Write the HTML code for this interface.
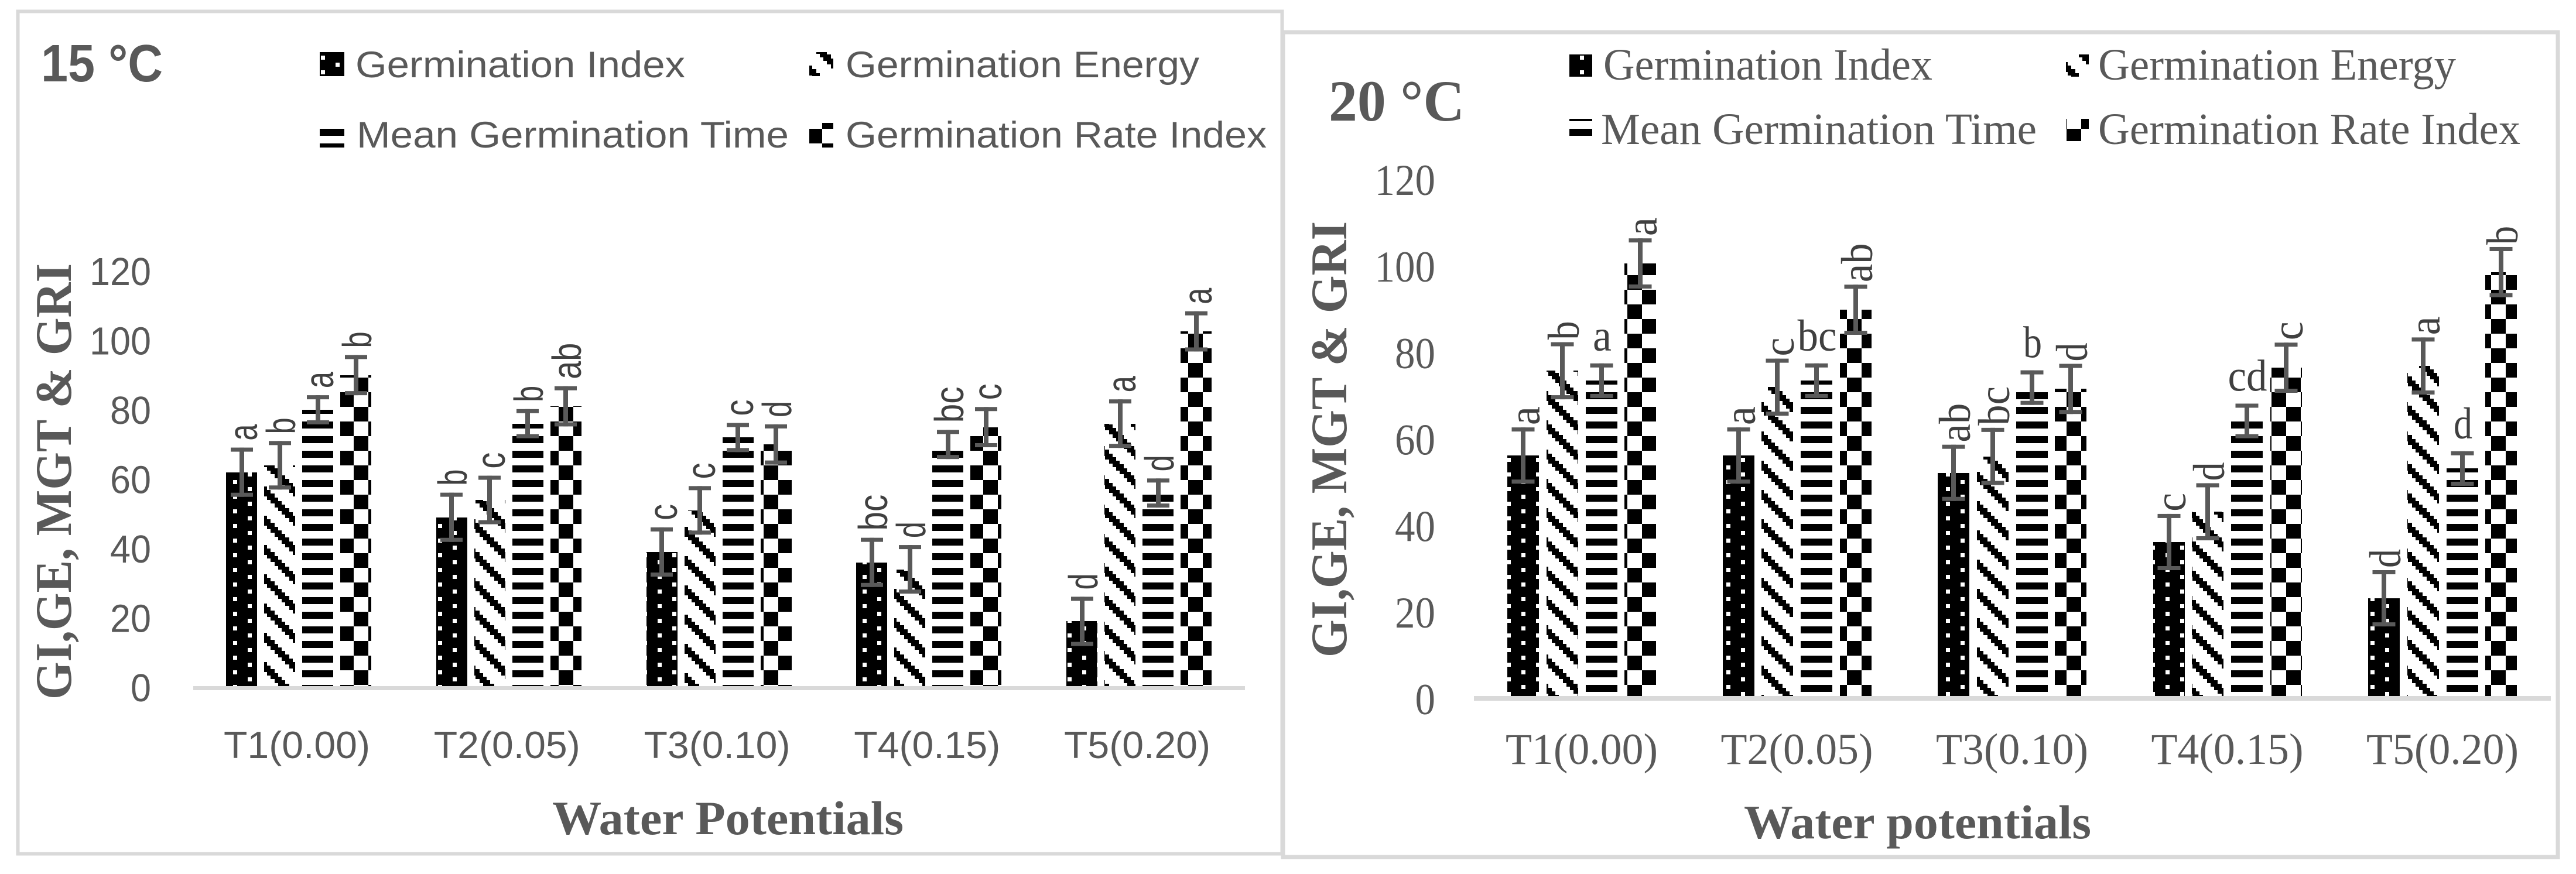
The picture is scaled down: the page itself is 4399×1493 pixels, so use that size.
<!DOCTYPE html>
<html lang="en">
<head>
<meta charset="utf-8">
<title>Germination indices at 15 °C and 20 °C</title>
<style>
html,body{margin:0;padding:0;background:#fff;width:4399px;height:1493px;overflow:hidden}
svg{display:block}
.sans{font-family:"Liberation Sans",sans-serif}
.serif{font-family:"Liberation Serif",serif}
</style>
</head>
<body>
<svg id="figure" xmlns="http://www.w3.org/2000/svg" width="4399" height="1493" viewBox="0 0 4399 1493">
<defs>
  <pattern id="pat-gi" patternUnits="userSpaceOnUse" x="0" y="0" width="50" height="25" shape-rendering="crispEdges">
    <rect width="50" height="25" fill="#000"/>
    <rect x="48" y="20" width="2" height="5" fill="#fff"/>
    <rect x="0" y="20" width="5" height="5" fill="#fff"/>
    <rect x="48" y="0" width="2" height="2" fill="#fff"/>
    <rect x="0" y="0" width="5" height="2" fill="#fff"/>
    <rect x="23" y="7" width="7" height="7" fill="#fff"/>
  </pattern>
  <pattern id="pat-ge" patternUnits="userSpaceOnUse" x="0" y="0" width="50" height="50" shape-rendering="crispEdges">
    <rect width="50" height="50" fill="#fff"/>
    <rect x="0" y="31" width="6" height="17" fill="#000"/>
    <rect x="6" y="37" width="6" height="13" fill="#000"/>
    <rect x="6" y="0" width="6" height="4" fill="#000"/>
    <rect x="12" y="43" width="7" height="7" fill="#000"/>
    <rect x="12" y="0" width="7" height="10" fill="#000"/>
    <rect x="19" y="0" width="6" height="17" fill="#000"/>
    <rect x="25" y="6" width="6" height="17" fill="#000"/>
    <rect x="31" y="12" width="6" height="17" fill="#000"/>
    <rect x="37" y="18" width="7" height="17" fill="#000"/>
    <rect x="44" y="25" width="6" height="17" fill="#000"/>
  </pattern>
  <pattern id="pat-mgt" patternUnits="userSpaceOnUse" x="0" y="0" width="50" height="25" shape-rendering="crispEdges">
    <rect width="50" height="25" fill="#fff"/>
    <rect x="0" y="20" width="50" height="5" fill="#000"/>
    <rect x="0" y="0" width="50" height="7" fill="#000"/>
  </pattern>
  <pattern id="pat-gri" patternUnits="userSpaceOnUse" x="0" y="0" width="50" height="50" shape-rendering="crispEdges">
    <rect width="50" height="50" fill="#fff"/>
    <rect x="29" y="20" width="21" height="25" fill="#000"/>
    <rect x="0" y="20" width="4" height="25" fill="#000"/>
    <rect x="4" y="45" width="25" height="5" fill="#000"/>
    <rect x="4" y="0" width="25" height="20" fill="#000"/>
  </pattern>
</defs>

<g>
  <rect x="30.5" y="19.5" width="2159" height="1439" fill="#fff" stroke="#d9d9d9" stroke-width="6"/>
</g>
<g>
  <rect x="2191" y="55" width="2177" height="1409" fill="#fff" stroke="#d9d9d9" stroke-width="7"/>
</g>

<g id="chart-left"></g>
<g id="chart-right"></g>

<!-- 15 C static text -->
<text class="sans" x="70" y="139" font-size="90" font-weight="700" fill="#595959" textLength="208" lengthAdjust="spacingAndGlyphs">15 °C</text>
<g class="sans" font-size="63" fill="#595959">
  <rect x="546" y="89" width="42" height="41" fill="url(#pat-gi)"/>
  <text x="607" y="132" textLength="563" lengthAdjust="spacingAndGlyphs">Germination Index</text>
  <rect x="1382" y="89" width="41" height="41" fill="url(#pat-ge)"/>
  <text x="1444" y="132" textLength="604" lengthAdjust="spacingAndGlyphs">Germination Energy</text>
  <rect x="546" y="211" width="42" height="41" fill="url(#pat-mgt)"/>
  <text x="609" y="252" textLength="738" lengthAdjust="spacingAndGlyphs">Mean Germination Time</text>
  <rect x="1382" y="210" width="41" height="42" fill="url(#pat-gri)"/>
  <text x="1444" y="252" textLength="719" lengthAdjust="spacingAndGlyphs">Germination Rate Index</text>
</g>
<text class="serif" transform="translate(121,1195) rotate(-90)" font-size="88" font-weight="700" fill="#595959" textLength="745" lengthAdjust="spacingAndGlyphs">GI,GE, MGT &amp; GRI</text>
<text class="serif" x="943" y="1425" font-size="82" font-weight="700" fill="#595959" textLength="600" lengthAdjust="spacingAndGlyphs">Water Potentials</text>

<!-- 20 C static text -->
<text class="serif" x="2269" y="206" font-size="100" font-weight="700" fill="#595959" textLength="232" lengthAdjust="spacingAndGlyphs">20 °C</text>
<g class="serif" font-size="76" fill="#595959">
  <rect x="2680" y="93" width="39" height="38" fill="url(#pat-gi)"/>
  <text x="2738" y="136" textLength="562" lengthAdjust="spacingAndGlyphs">Germination Index</text>
  <rect x="3528" y="93" width="39" height="38" fill="url(#pat-ge)"/>
  <text x="3583" y="136" textLength="611" lengthAdjust="spacingAndGlyphs">Germination Energy</text>
  <rect x="2680" y="203" width="39" height="29" fill="url(#pat-mgt)"/>
  <text x="2734" y="246" textLength="744" lengthAdjust="spacingAndGlyphs">Mean Germination Time</text>
  <rect x="3528" y="203" width="39" height="38" fill="url(#pat-gri)"/>
  <text x="3583" y="246" textLength="721" lengthAdjust="spacingAndGlyphs">Germination Rate Index</text>
</g>
<text class="serif" transform="translate(2299,1123) rotate(-90)" font-size="88" font-weight="700" fill="#595959" textLength="745" lengthAdjust="spacingAndGlyphs">GI,GE, MGT &amp; GRI</text>
<text class="serif" x="2978" y="1432" font-size="82" font-weight="700" fill="#595959" textLength="593" lengthAdjust="spacingAndGlyphs">Water potentials</text>
</svg>

<script>
// ---- shared data ----
const categoriesLeft = ['T1(0.00)', 'T2(0.05)', 'T3(0.10)', 'T4(0.15)', 'T5(0.20)'];
const categoriesRight = ['T1(0.00)', 'T2(0.05)', 'T3(0.10)', 'T4(0.15)', 'T5(0.20)'];
const yTicksLeft = [0, 20, 40, 60, 80, 100, 120];
const yTicksRight = [0, 20, 40, 60, 80, 100, 120];
const seriesNames = ['germination-index', 'germination-energy', 'mean-germination-time', 'germination-rate-index'];

// ---- 15 C values ----
const giLeft = [62, 49, 39, 36, 19];
const geLeft = [64, 54, 51, 34, 76];
const mgtLeft = [80, 76, 72, 70, 56];
const griLeft = [90, 81, 70, 75, 102.6];
const giErrLeft = [7.1, 7.1, 7.1, 7.1, 7.1];
const geErrLeft = [7, 7, 7, 7, 7];
const mgtErrLeft = [4.2, 4.2, 4.2, 4.2, 4.2];
const griErrLeft = [5.8, 5.8, 5.8, 5.8, 5.8];
const giLettersLeft = ['a', 'b', 'c', 'bc', 'd'];
const geLettersLeft = ['b', 'c', 'c', 'd', 'a'];
const mgtLettersLeft = ['a', 'b', 'c', 'bc', 'd'];
const griLettersLeft = ['b', 'ab', 'd', 'c', 'a'];

// ---- 20 C values ----
const giRight = [56, 56, 52, 36, 23];
const geRight = [75.6, 71.8, 55.8, 43, 76.7];
const mgtRight = [73.3, 73.3, 71.7, 64, 53];
const griRight = [100.4, 89.7, 71.4, 76.3, 98.4];
const giErrRight = [6.5, 6.5, 6.5, 6.5, 6.5];
const geErrRight = [6.6, 6.6, 6.6, 6.6, 6.6];
const mgtErrRight = [4, 4, 4, 4, 4];
const griErrRight = [5.8, 5.8, 5.8, 5.8, 5.8];
const giLettersRight = ['a', 'a', 'ab', 'c', 'd'];
const geLettersRight = ['b', 'c', 'bc', 'd', 'a'];
const mgtLettersRight = ['a', 'bc', 'b', 'cd', 'd'];
const griLettersRight = ['a', 'ab', 'd', 'c', 'b'];

const SVGNS = 'http://www.w3.org/2000/svg';
const patternIds = ['pat-gi', 'pat-ge', 'pat-mgt', 'pat-gri'];

function make(tag, parent, props) {
  const el = document.createElementNS(SVGNS, tag);
  for (const k in props) el.setAttribute(k, props[k]);
  parent.appendChild(el);
  return el;
}

function drawChart(root, o) {
  const yScale = v => o.y0 - v * o.pxPerUnit;
  const xBar = (c, s) => o.x0 + c * o.groupStep + s * o.barStep;

  // y tick labels
  o.ticks.forEach(t => {
    const el = make('text', root, {
      x: o.tickRight, y: yScale(t) + o.tickDy, 'font-size': o.tickFont, fill: '#595959',
      'text-anchor': 'end', 'font-family': o.family,
      textLength: String(t).length * o.digitW, lengthAdjust: 'spacingAndGlyphs'
    });
    
    
    el.textContent = t;
  });

  // bars
  o.series.forEach((vals, s) => {
    vals.forEach((v, c) => {
      const x = Math.round(xBar(c, s));
      const top = Math.round(yScale(v));
      const bar = make('rect', root, {
        x: x, y: top, width: o.barW, height: Math.round(yScale(0)) - top,
        fill: 'url(#' + patternIds[s] + ')'
      });
      
      
    });
  });

  // x axis line
  const axis = make('rect', root, {
    x: o.axisLeft, y: o.axisTop, width: o.axisRight - o.axisLeft, height: o.axisH, fill: '#d9d9d9'
  });
  
  

  // x category labels
  o.categories.forEach((cat, c) => {
    const el = make('text', root, {
      x: xBar(c, 0) + o.catDx, y: o.catY, 'font-size': o.catFont, fill: '#595959',
      'text-anchor': 'middle', 'font-family': o.family,
      textLength: o.catW, lengthAdjust: 'spacingAndGlyphs'
    });
    
    
    el.textContent = cat;
  });

  // error bars + significance letters
  o.series.forEach((vals, s) => {
    vals.forEach((v, c) => {
      const cx = Math.round(xBar(c, s) + o.barW / 2);
      const yTop = yScale(v + o.errors[s][c]);
      const yBot = yScale(v - o.errors[s][c]);
      const g = make('g', root, { fill: '#595959' });
      
      
      make('rect', g, { x: cx - 4, y: yTop, width: 8, height: yBot - yTop });
      make('rect', g, { x: cx - o.capW / 2, y: yTop, width: o.capW, height: 7 });
      make('rect', g, { x: cx - o.capW / 2, y: yBot - 7, width: o.capW, height: 7 });

      const letter = o.letters[s][c];
      const upright = o.uprightSeries === s;
      const len = letter.length === 1 ? o.letterLen1 : o.letterLen2;
      const props = {
        'font-size': o.letterFont, fill: '#404040', 'font-family': o.family,
        textLength: len, lengthAdjust: 'spacingAndGlyphs'
      };
      if (upright) {
        props.x = cx + 1;
        props.y = yTop - o.uprightGap;
        props['text-anchor'] = 'middle';
      } else {
        props.transform = 'translate(' + (cx + o.letterDx) + ',' + (yTop - o.letterGap) + ') rotate(-90)';
      }
      const t = make('text', root, props);
      
      
      t.textContent = letter;
    });
  });
}

drawChart(document.getElementById('chart-left'), {
  categories: categoriesLeft, ticks: yTicksLeft,
  series: [giLeft, geLeft, mgtLeft, griLeft],
  errors: [giErrLeft, geErrLeft, mgtErrLeft, griErrLeft],
  letters: [giLettersLeft, geLettersLeft, mgtLettersLeft, griLettersLeft],
  family: '"Liberation Sans", sans-serif',
  y0: 1174, pxPerUnit: 5.925, x0: 386, groupStep: 358.75, barStep: 65, barW: 53,
  tickRight: 258, tickDy: 24, tickFont: 67, digitW: 35,
  axisLeft: 330, axisRight: 2126, axisTop: 1172, axisH: 7,
  catY: 1295, catFont: 65, catW: 250, catDx: 121,
  capW: 38, letterFont: 70, letterDx: 26, letterGap: 12, letterLen1: 28, letterLen2: 62,
  uprightSeries: -1, uprightGap: 0
});

drawChart(document.getElementById('chart-right'), {
  categories: categoriesRight, ticks: yTicksRight,
  series: [giRight, geRight, mgtRight, griRight],
  errors: [giErrRight, geErrRight, mgtErrRight, griErrRight],
  letters: [giLettersRight, geLettersRight, mgtLettersRight, griLettersRight],
  family: '"Liberation Serif", serif',
  y0: 1192, pxPerUnit: 7.39, x0: 2574, groupStep: 367.5, barStep: 66.8, barW: 54,
  tickRight: 2451, tickDy: 28, tickFont: 75, digitW: 34.5,
  axisLeft: 2517, axisRight: 4356, axisTop: 1189, axisH: 8,
  catY: 1305, catFont: 75, catW: 260, catDx: 127,
  capW: 39, letterFont: 76, letterDx: 28, letterGap: 4, letterLen1: 32, letterLen2: 67,
  uprightSeries: 2, uprightGap: 22
});
</script>
</body>
</html>
